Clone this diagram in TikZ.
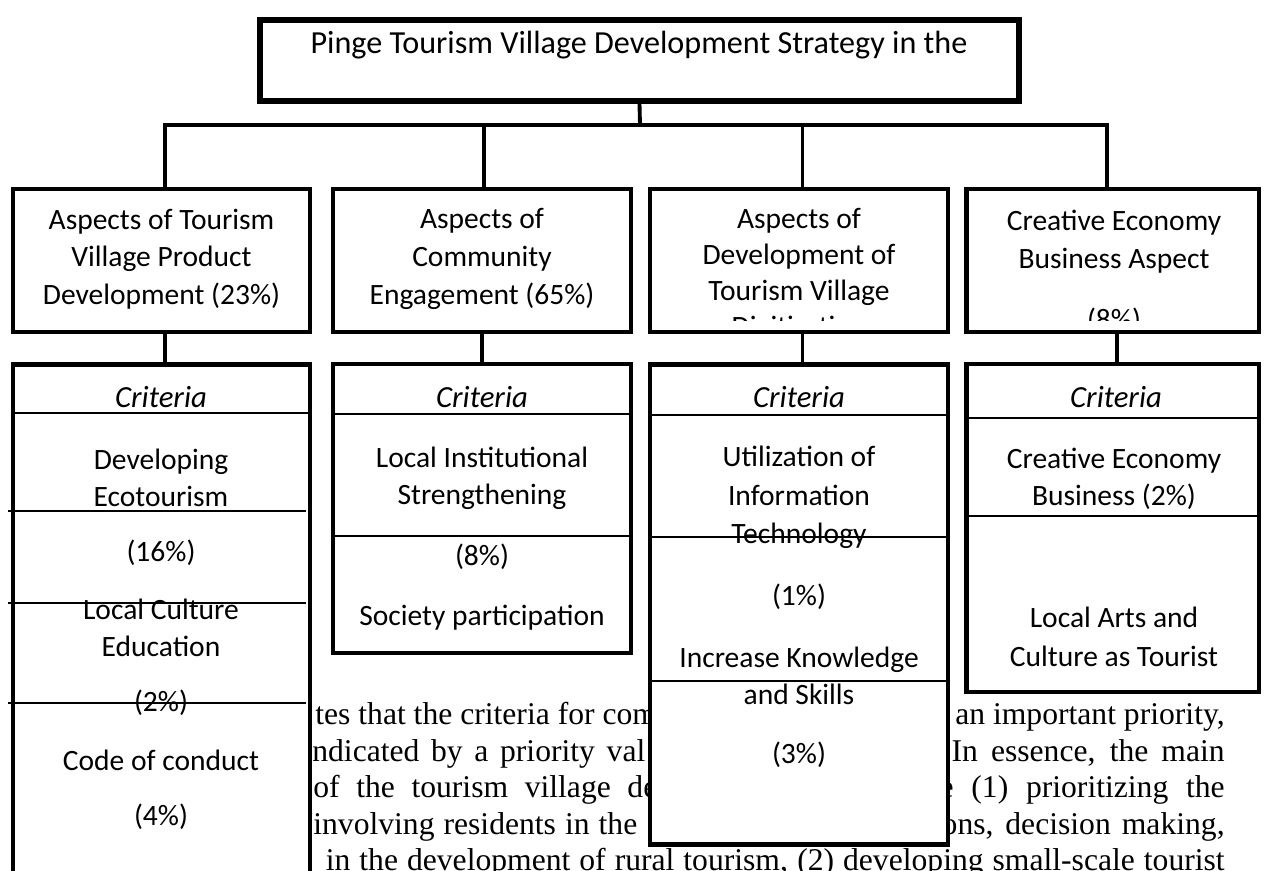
\documentclass[tikz,border=0pt]{standalone}
\usepackage{fontspec}
\setmainfont{Carlito}
\newfontfamily\bodyfont{Liberation Serif}
\usepackage{tikz}
\usetikzlibrary{calc}
\usetikzlibrary{positioning}
\tikzset{>=latex}
\tikzset{
  goalbox/.style = {rectangle, draw=black, fill=white, line width=3.3pt, minimum width=15.18cm, minimum height=1.62cm},
  aspbox/.style  = {rectangle, draw=black, fill=white, line width=2.8pt, minimum height=2.86cm},
  critbox/.style = {rectangle, draw=black, fill=white, line width=2.8pt},
  txt/.style     = {align=center, inner sep=0pt, font=\fontsize{16.8}{21}\selectfont},
  crit/.style    = {inner sep=0pt, font=\fontsize{17.5}{21}\selectfont\itshape},
  body/.style    = {inner sep=0pt, font=\bodyfont\fontsize{18}{21}\selectfont},
  link/.style    = {draw=black, line width=2.2pt},
  rule/.style    = {draw=black, line width=1.4pt}
}

\begin{document}
\begin{tikzpicture}[x=0.02cm, y=-0.02cm]
\useasboundingbox (0,0) rectangle (1264,871);
\clip (0,0) rectangle (1264,871);

% running text of the page behind the chart
\node [body, anchor=base west] (t1a) at (315,724) {tes that the criteria for com};
\node [body, anchor=base east] (t1b) at (1225,724) {an important priority,};
\node [body, anchor=base west] (t2a) at (312,761) {\makebox[6.66cm][s]{ndicated by a priority val}};
\node [body, anchor=base east] (t2b) at (1225,761) {\makebox[5.46cm][s]{In essence, the main}};
\node [body, anchor=base west] (t3a) at (313,797) {\makebox[6.88cm][s]{of the tourism village de}};
\node [body, anchor=base east] (t3b) at (1225,797) {\makebox[5.7cm][s]{e (1) prioritizing the}};
\node [body, anchor=base west] (t4a) at (313,834) {\makebox[6.48cm][s]{involving residents in the}};
\node [body, anchor=base east] (t4b) at (1225,834) {\makebox[5.66cm][s]{ons, decision making,}};
\node [body, anchor=base east] (t5) at (1225,870) {\makebox[17.98cm][s]{in the development of rural tourism, (2) developing small-scale tourist}};

% boxes
\node [goalbox] (goal) at (639.5,60.5) {};
\node [aspbox, minimum width=5.94cm] (a1) at (161.5,260.5) {};
\node [aspbox, minimum width=5.96cm] (a2) at (482,260.5) {};
\node [aspbox, minimum width=5.96cm] (a3) at (799,260.5) {};
\node [aspbox, minimum width=5.86cm] (a4) at (1112.5,260.5) {};
\node [critbox, minimum width=5.94cm, minimum height=10.82cm] (c1) at (161.5,634.5) {};
\node [critbox, minimum width=5.96cm, minimum height=5.78cm] (c2) at (482,508.5) {};
\node [critbox, minimum width=5.96cm, minimum height=9.62cm] (c3) at (799,604.5) {};
\node [critbox, minimum width=5.86cm, minimum height=6.56cm] (c4) at (1112.5,528) {};

% connectors
\coordinate (bar) at (640,125);
\draw [link] (goal.south) -- (bar);
\draw [link] ([xshift=2pt]a1.north) |- (bar) -| ([xshift=-3pt]a4.north);
\draw [link] ([xshift=1pt]a2.north) -- ([xshift=1pt]a2.north |- bar);
\draw [link] ([xshift=2pt]a3.north) -- ([xshift=2pt]a3.north |- bar);
\draw [link] ([xshift=2pt]a1.south) -- ([xshift=2pt]c1.north);
\draw [link] (a2.south) -- (c2.north);
\draw [link] ([xshift=2pt]a3.south) -- ([xshift=2pt]c3.north);
\draw [link] ([xshift=2.5pt]a4.south) -- ([xshift=2.5pt]c4.north);

% texts
\node [txt, font=\fontsize{18.3}{22}\selectfont] (goaltxt) at (639,45) {Pinge Tourism Village Development Strategy in the};
\begin{scope}
\clip (0,185) rectangle (1264,321);
\node [txt, font=\fontsize{16.8}{21.5}\selectfont] (a1txt) at (161.5,259) {Aspects of Tourism\\Village Product\\Development (23\%)};
\node [txt, font=\fontsize{16.8}{21.5}\selectfont] (a2txt) at (482,259) {Aspects of\\Community\\Engagement (65\%)};
\node [txt, font=\fontsize{16.8}{20.5}\selectfont] (a3txt) at (799,275) {Aspects of\\Development of\\Tourism Village\\Digitization};
\node [txt, font=\fontsize{16.8}{21.5}\selectfont] (a4txt) at (1114,272) {Creative Economy\\Business Aspect\\[13pt](8\%)};
\end{scope}

\node [crit] (c1h) at (161,397) {Criteria};
\node [txt] (c1a) at (161,477.5) {Developing\\Ecotourism};
\node [txt] (c1b) at (161,553) {(16\%)};
\node [txt] (c1c) at (161,627.5) {Local Culture\\Education};
\node [txt] (c1d) at (161,703) {(2\%)};
\node [txt] (c1e) at (161,760) {Code of conduct};
\node [txt] (c1f) at (161,817) {(4\%)};

\node [crit] (c2h) at (482,397) {Criteria};
\node [txt] (c2a) at (482,478.5) {Local Institutional\\Strengthening};
\node [txt] (c2b) at (482,557) {(8\%)};
\node [txt] (c2c) at (482,618) {Society participation};

\node [crit] (c3h) at (799,397) {Criteria};
\node [txt, font=\fontsize{16.8}{22}\selectfont] (c3a) at (799,497.5) {Utilization of\\Information\\Technology};
\node [txt] (c3b) at (799,597) {(1\%)};
\node [txt] (c3c) at (799,676) {Increase Knowledge\\and Skills};
\node [txt] (c3d) at (799,755) {(3\%)};

\node [crit] (c4h) at (1116,397) {Criteria};
\node [txt] (c4a) at (1114,479) {Creative Economy\\Business (2\%)};
\node [txt, font=\fontsize{16.8}{22}\selectfont] (c4b) at (1114,637) {Local Arts and\\Culture as Tourist};

% rules inside the criteria boxes
\draw [rule] (13,413) -- (310,413);
\draw [rule] (8,511) -- (306,511);
\draw [rule] (8,603) -- (306,603);
\draw [rule] (8,703) -- (306,703);
\draw [rule] (333,414) -- (631,414);
\draw [rule] (333,536) -- (631,536);
\draw [rule] (650,415) -- (948,415);
\draw [rule] (650,537) -- (948,537);
\draw [rule] (650,681) -- (948,681);
\draw [rule] (966,418) -- (1259,418);
\draw [rule] (966,516) -- (1259,516);
\end{tikzpicture}
\end{document}
